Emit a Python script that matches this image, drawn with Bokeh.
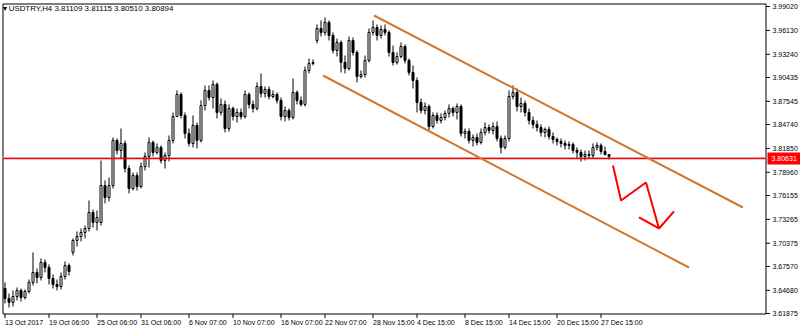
from bokeh.plotting import figure
from bokeh.models import ColumnDataSource, Range1d
from bokeh.core.properties import value
from bokeh.embed import file_html
from bokeh.resources import INLINE

# ---------------- data ----------------
symbol_title = "\u25be USDTRY,H4  3.81109 3.81115 3.80510 3.80894"

opens = [3.6490, 3.6369, 3.6321, 3.6393, 3.6466, 3.6381, 3.6454, 3.6563, 3.6684, 3.6623,
         3.6805, 3.6744, 3.6611, 3.6539, 3.6514, 3.6635, 3.6768, 3.6926, 3.7071, 3.7119,
         3.7168, 3.7216, 3.7410, 3.7289, 3.7289, 3.7736, 3.7591, 3.7736, 3.8281, 3.8160,
         3.8245, 3.7942, 3.7700, 3.7857, 3.7724, 3.7966, 3.8088, 3.8257, 3.8136, 3.8197,
         3.8039, 3.8100, 3.8281, 3.8571, 3.8838, 3.8583, 3.8366, 3.8245, 3.8463, 3.8281,
         3.8704, 3.8886, 3.8801, 3.8959, 3.8620, 3.8717, 3.8426, 3.8668, 3.8571, 3.8620,
         3.8571, 3.8838, 3.8717, 3.8668, 3.8934, 3.8850, 3.8898, 3.8813, 3.8838, 3.8765,
         3.8571, 3.8644, 3.8559, 3.8862, 3.8765, 3.8717, 3.9128, 3.9213, 3.9491, 3.9636,
         3.9588, 3.9709, 3.9551, 3.9370, 3.9467, 3.9225, 3.9152, 3.9491, 3.9346, 3.9055,
         3.9079, 3.9249, 3.9588, 3.9648, 3.9551, 3.9624, 3.9588, 3.9346, 3.9225, 3.9297,
         3.9418, 3.9249, 3.9104, 3.9007, 3.8741, 3.8644, 3.8692, 3.8450, 3.8583, 3.8523,
         3.8559, 3.8608, 3.8668, 3.8620, 3.8692, 3.8366, 3.8390, 3.8281, 3.8318, 3.8257,
         3.8378, 3.8438, 3.8402, 3.8450, 3.8305, 3.8197, 3.8305, 3.8813, 3.8862, 3.8692,
         3.8729, 3.8620, 3.8523, 3.8475, 3.8438, 3.8378, 3.8414, 3.8329, 3.8293, 3.8269,
         3.8245, 3.8221, 3.8233, 3.8160, 3.8136, 3.8088, 3.8112, 3.8100, 3.8197, 3.8221,
         3.8148, 3.81109]

highs = [3.6563, 3.6430, 3.6466, 3.6502, 3.6490, 3.6478, 3.6599, 3.6926, 3.6732, 3.6853,
         3.6841, 3.6781, 3.6660, 3.6599, 3.6684, 3.6817, 3.6793, 3.7095, 3.7180, 3.7216,
         3.7252, 3.7555, 3.7446, 3.7434, 3.8039, 3.7797, 3.7833, 3.8318, 3.8305, 3.8426,
         3.8281, 3.7979, 3.7894, 3.7894, 3.8015, 3.8136, 3.8318, 3.8281, 3.8245, 3.8221,
         3.8136, 3.8342, 3.8620, 3.8886, 3.8862, 3.8620, 3.8426, 3.8583, 3.8499, 3.8765,
         3.8947, 3.8947, 3.9007, 3.8983, 3.8789, 3.8765, 3.8717, 3.8692, 3.8668, 3.8668,
         3.8886, 3.8862, 3.8765, 3.8983, 3.9092, 3.8934, 3.8934, 3.8886, 3.8862, 3.8801,
         3.8692, 3.8668, 3.9031, 3.8886, 3.8813, 3.9176, 3.9273, 3.9261, 3.9685, 3.9733,
         3.9769, 3.9733, 3.9588, 3.9515, 3.9491, 3.9309, 3.9539, 3.9527, 3.9370, 3.9128,
         3.9309, 3.9636, 3.9733, 3.9685, 3.9673, 3.9685, 3.9612, 3.9430, 3.9346, 3.9467,
         3.9443, 3.9273, 3.9188, 3.9043, 3.8789, 3.8741, 3.8717, 3.8620, 3.8620, 3.8608,
         3.8644, 3.8717, 3.8692, 3.8729, 3.8717, 3.8426, 3.8426, 3.8354, 3.8366, 3.8426,
         3.8499, 3.8475, 3.8499, 3.8511, 3.8341, 3.8341, 3.8886, 3.8947, 3.8910, 3.8801,
         3.8765, 3.8668, 3.8571, 3.8523, 3.8475, 3.8438, 3.8450, 3.8378, 3.8318, 3.8305,
         3.8281, 3.8269, 3.8257, 3.8197, 3.8172, 3.8160, 3.8160, 3.8245, 3.8257, 3.8245,
         3.8208, 3.81115]

lows = [3.6309, 3.6260, 3.6272, 3.6345, 3.6333, 3.6357, 3.6430, 3.6527, 3.6551, 3.6587,
        3.6684, 3.6539, 3.6490, 3.6466, 3.6478, 3.6599, 3.6647, 3.6889, 3.6998, 3.7059,
        3.7095, 3.7180, 3.7228, 3.7192, 3.7252, 3.7519, 3.7543, 3.7700, 3.8112, 3.8063,
        3.7894, 3.7640, 3.7676, 3.7676, 3.7700, 3.7918, 3.7954, 3.8088, 3.8112, 3.8003,
        3.7942, 3.8027, 3.8245, 3.8583, 3.8547, 3.8305, 3.8208, 3.8197, 3.8185, 3.8257,
        3.8644, 3.8765, 3.8668, 3.8547, 3.8583, 3.8378, 3.8390, 3.8523, 3.8499, 3.8535,
        3.8547, 3.8668, 3.8620, 3.8644, 3.8801, 3.8801, 3.8777, 3.8789, 3.8729, 3.8523,
        3.8511, 3.8523, 3.8535, 3.8717, 3.8692, 3.8692, 3.9092, 3.9188, 3.9455, 3.9539,
        3.9551, 3.9491, 3.9334, 3.9297, 3.9104, 3.9092, 3.9128, 3.9309, 3.8983, 3.9031,
        3.9043, 3.9225, 3.9551, 3.9491, 3.9515, 3.9551, 3.9297, 3.9188, 3.9200, 3.9273,
        3.9213, 3.9067, 3.8910, 3.8620, 3.8608, 3.8596, 3.8402, 3.8426, 3.8487, 3.8487,
        3.8523, 3.8559, 3.8571, 3.8535, 3.8329, 3.8305, 3.8245, 3.8208, 3.8221, 3.8233,
        3.8341, 3.8366, 3.8354, 3.8269, 3.8124, 3.8172, 3.8269, 3.8777, 3.8632, 3.8620,
        3.8571, 3.8475, 3.8426, 3.8390, 3.8329, 3.8318, 3.8293, 3.8245, 3.8221, 3.8197,
        3.8172, 3.8172, 3.8124, 3.8063, 3.8027, 3.8039, 3.8063, 3.8063, 3.8160, 3.8112,
        3.8100, 3.80510]

closes = [3.6369, 3.6321, 3.6393, 3.6466, 3.6381, 3.6454, 3.6563, 3.6684, 3.6623, 3.6805,
          3.6744, 3.6611, 3.6539, 3.6514, 3.6635, 3.6768, 3.6696, 3.7071, 3.7119, 3.7168,
          3.7216, 3.7410, 3.7289, 3.7349, 3.7736, 3.7591, 3.7736, 3.8281, 3.8160, 3.8245,
          3.7942, 3.7700, 3.7857, 3.7724, 3.7966, 3.8088, 3.8257, 3.8136, 3.8197, 3.8039,
          3.8100, 3.8281, 3.8571, 3.8838, 3.8583, 3.8366, 3.8245, 3.8463, 3.8281, 3.8704,
          3.8886, 3.8801, 3.8959, 3.8620, 3.8717, 3.8426, 3.8668, 3.8571, 3.8620, 3.8571,
          3.8838, 3.8717, 3.8668, 3.8934, 3.8850, 3.8898, 3.8813, 3.8838, 3.8765, 3.8571,
          3.8644, 3.8559, 3.8862, 3.8765, 3.8717, 3.9128, 3.9213, 3.9225, 3.9636, 3.9588,
          3.9709, 3.9551, 3.9370, 3.9467, 3.9225, 3.9152, 3.9491, 3.9346, 3.9055, 3.9079,
          3.9249, 3.9588, 3.9648, 3.9551, 3.9624, 3.9588, 3.9346, 3.9225, 3.9297, 3.9418,
          3.9249, 3.9104, 3.9007, 3.8741, 3.8644, 3.8692, 3.8450, 3.8583, 3.8523, 3.8559,
          3.8608, 3.8668, 3.8620, 3.8692, 3.8366, 3.8390, 3.8281, 3.8318, 3.8257, 3.8378,
          3.8438, 3.8402, 3.8450, 3.8305, 3.8197, 3.8305, 3.8813, 3.8862, 3.8692, 3.8729,
          3.8620, 3.8523, 3.8475, 3.8438, 3.8378, 3.8414, 3.8329, 3.8293, 3.8269, 3.8245,
          3.8221, 3.8233, 3.8160, 3.8136, 3.8088, 3.8112, 3.8100, 3.8197, 3.8221, 3.8148,
          3.8111, 3.80894]

time_tick_bars = [0, 11, 23, 34, 46, 57, 69, 80, 92, 103, 115, 126, 138, 149]
time_tick_labels = ["13 Oct 2017", "19 Oct 06:00", "25 Oct 06:00", "31 Oct 06:00",
                    "6 Nov 07:00", "10 Nov 07:00", "16 Nov 07:00", "22 Nov 07:00",
                    "28 Nov 15:00", "4 Dec 15:00", "8 Dec 15:00", "14 Dec 15:00",
                    "20 Dec 15:00", "27 Dec 15:00"]

price_ticks = [3.99020, 3.96130, 3.93240, 3.90435, 3.87545, 3.84740, 3.81850,
               3.78960, 3.76155, 3.73265, 3.70375, 3.67570, 3.64680, 3.61875]

level_price = 3.80631
ask_price = 3.8075

channel_upper_bars = [92.25, 184.5]
channel_upper_prices = [3.9793, 3.7470]
channel_lower_bars = [79.5, 171.0]
channel_lower_prices = [3.9067, 3.6744]

arrow_bars = [152.0, 154.0, 160.25, 163.5]
arrow_prices = [3.7978, 3.7555, 3.7772, 3.7216]
arrowhead_bars = [158.5, 163.5, 167.25]
arrowhead_prices = [3.7349, 3.7216, 3.7422]

# ---------------- layout (pixel geometry of the MT4 window) ----------------
W, H = 800, 332
bar_px = 4.0
ppx = 0.00121                      # price per pixel
x_start = -1.125                   # bar i centred at pixel 4.5 + 4 i
x_end = x_start + W / bar_px
y_top = 3.99746                    # price at top pixel row
y_bot = y_top - H * ppx

def X(px):
    return x_start + px / bar_px

def Y(py):
    return y_top - py * ppx

FRAME_L, FRAME_R, FRAME_T, FRAME_B = 2.5, 765.5, 3.5, 313.5

FONT = "Liberation Sans"
FS = "7px"

p = figure(width=W, height=H, output_backend="svg", toolbar_location=None,
           x_range=Range1d(x_start, x_end), y_range=Range1d(y_bot, y_top),
           x_axis_location=None, y_axis_location=None,
           min_border=0, min_border_left=0, min_border_right=0,
           min_border_top=0, min_border_bottom=0)
p.grid.visible = False
p.outline_line_color = None
p.background_fill_color = "white"
p.border_fill_color = "white"

# chart frame
p.quad(left=[X(FRAME_L)], right=[X(FRAME_R)], top=[Y(FRAME_T)], bottom=[Y(FRAME_B)],
       fill_alpha=0, line_color="black", line_width=1)

# ask line
p.segment(x0=[X(FRAME_L)], x1=[X(FRAME_R)], y0=[ask_price], y1=[ask_price],
          line_color="#C8D6E5", line_width=1)

# candles
idx = list(range(len(closes)))
bull = [c >= o for o, c in zip(opens, closes)]
src = ColumnDataSource(dict(
    x=idx, high=highs, low=lows,
    top=[max(o, c) for o, c in zip(opens, closes)],
    bottom=[min(o, c) for o, c in zip(opens, closes)],
    fill=["white" if b else "black" for b in bull],
))
p.segment(x0="x", y0="low", x1="x", y1="high", source=src, line_color="black", line_width=1)
p.vbar(x="x", top="top", bottom="bottom", width=0.5, source=src,
       fill_color="fill", line_color="black", line_width=1)

# horizontal level line
p.segment(x0=[X(FRAME_L)], x1=[X(FRAME_R)], y0=[level_price], y1=[level_price],
          line_color="#FF0000", line_width=1.6)

# channel lines
ch_col = "#D2782E"
p.line(channel_upper_bars, channel_upper_prices, line_color=ch_col, line_width=2)
p.line(channel_lower_bars, channel_lower_prices, line_color=ch_col, line_width=2)

# red zigzag arrow
p.line(arrow_bars, arrow_prices, line_color="#FF0000", line_width=2)
p.line(arrowhead_bars, arrowhead_prices, line_color="#FF0000", line_width=2)

# right price scale: ticks + labels
n_p = len(price_ticks)
p.segment(x0=[X(FRAME_R)] * n_p, x1=[X(FRAME_R + 4)] * n_p, y0=price_ticks, y1=price_ticks,
          line_color="black", line_width=1)
p.text(x=[X(772)] * n_p, y=price_ticks, text=["%.5f" % v for v in price_ticks],
       text_font=value(FONT), text_font_size=value(FS), text_color="black",
       text_align="left", text_baseline="middle")

# red price tag on the scale
p.quad(left=[X(767)], right=[X(800)], top=[level_price + 6 * ppx],
       bottom=[level_price - 6 * ppx], fill_color="#FF0000", line_color=None)
p.text(x=[X(771)], y=[level_price], text=["%.5f" % level_price],
       text_font=value(FONT), text_font_size=value(FS), text_color="white",
       text_align="left", text_baseline="middle")

# bottom time scale: ticks + left-aligned labels
n_t = len(time_tick_bars)
p.segment(x0=time_tick_bars, x1=time_tick_bars, y0=[Y(FRAME_B)] * n_t,
          y1=[Y(FRAME_B + 4)] * n_t, line_color="black", line_width=1)
p.text(x=time_tick_bars, y=[Y(318)] * n_t, text=time_tick_labels,
       text_font=value(FONT), text_font_size=value(FS), text_color="black",
       text_align="left", text_baseline="top")

# title
p.text(x=[X(2)], y=[Y(3)], text=[symbol_title],
       text_font=value(FONT), text_font_size=value("7.9px"), text_color="black",
       text_align="left", text_baseline="top")

open("out.html", "w").write(file_html(p, INLINE))
